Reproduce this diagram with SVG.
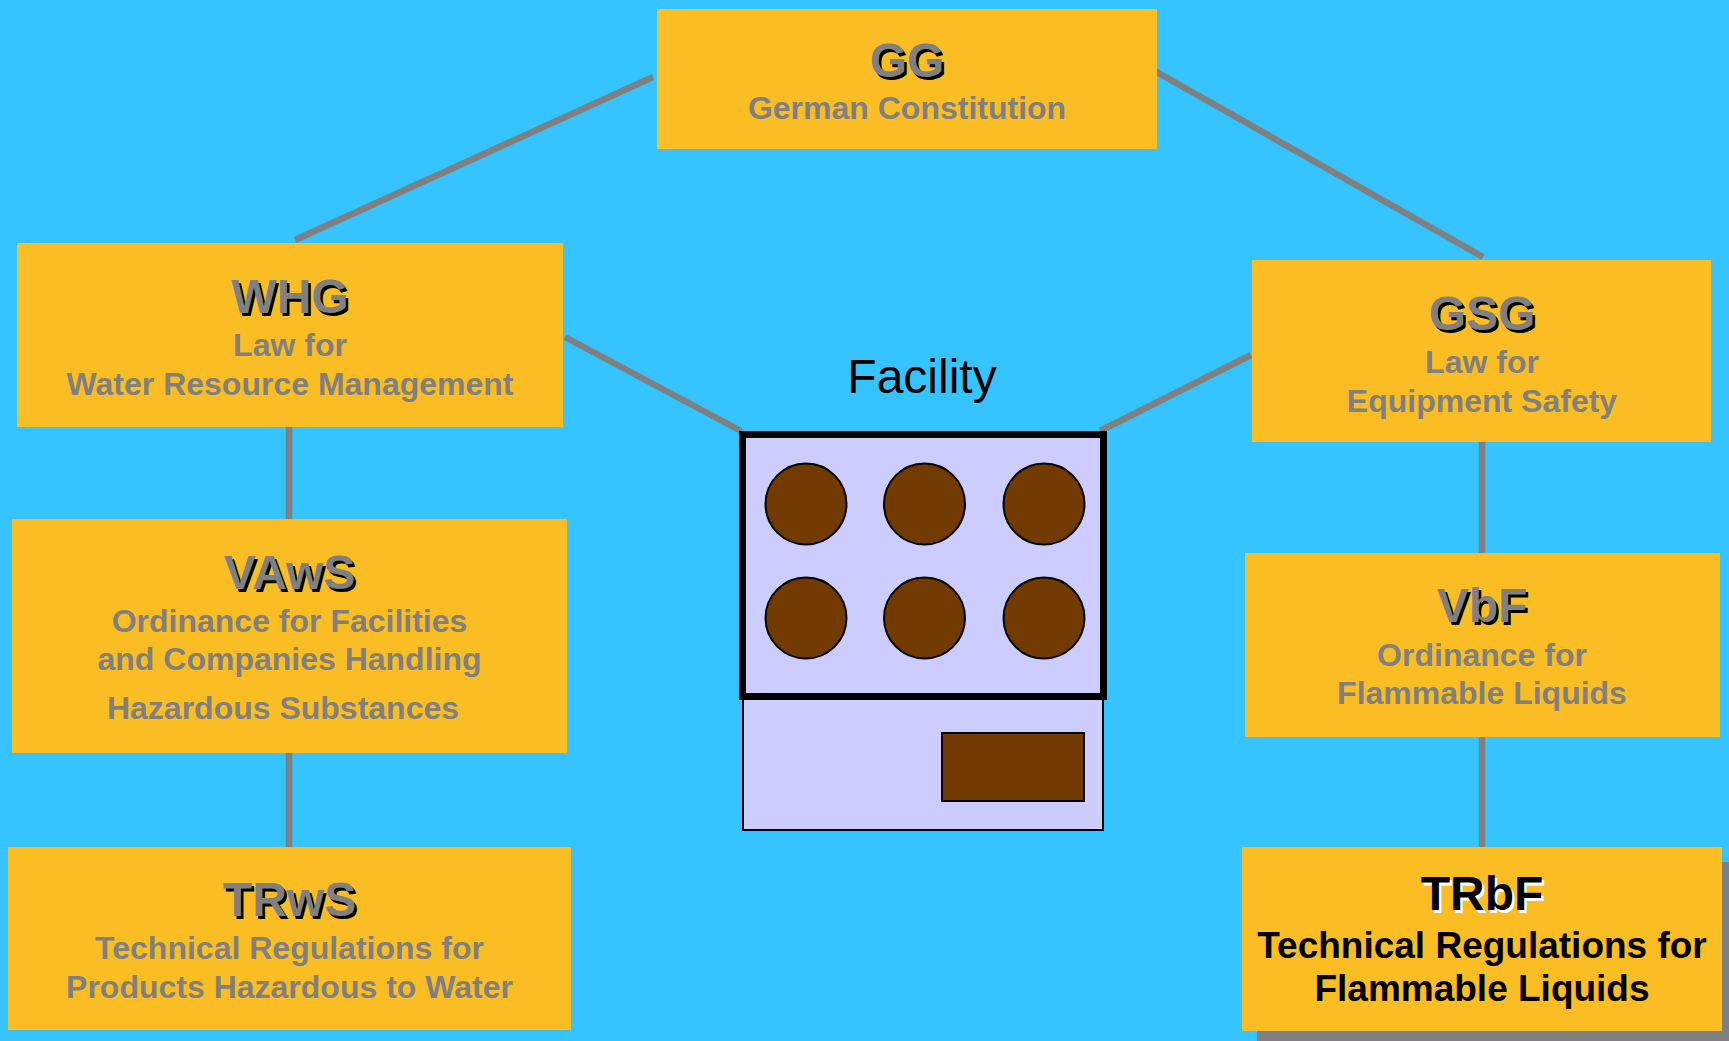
<svg xmlns="http://www.w3.org/2000/svg" width="1729" height="1041" viewBox="0 0 1729 1041">
  <style>
    .box { fill: #FBBD24; }
    .title { font-family: "Liberation Sans", Arial, sans-serif; font-weight: bold; font-size: 48px; text-anchor: middle; }
    .sub { font-family: "Liberation Sans", Arial, sans-serif; font-weight: bold; font-size: 32px; text-anchor: middle; fill: #808080; }
    .tg { fill: #808080; }
    .ts { fill: #000000; }
    .conn { stroke: #808080; stroke-width: 6.5; fill: none; }
    .tank { fill: #733A00; stroke: #000; stroke-width: 2; }
  </style>
  <rect x="0" y="0" width="1729" height="1041" fill="#35C4FF"/>

  <g id="connectors">
    <line class="conn" x1="653" y1="77" x2="295" y2="240"/>
    <line class="conn" x1="1155" y1="71" x2="1483" y2="257"/>
    <line class="conn" x1="565" y1="337" x2="741" y2="431"/>
    <line class="conn" x1="1251" y1="355" x2="1100" y2="431"/>
    <line class="conn" x1="289" y1="427" x2="289" y2="519"/>
    <line class="conn" x1="289" y1="753" x2="289" y2="847"/>
    <line class="conn" x1="1482" y1="442" x2="1482" y2="553"/>
    <line class="conn" x1="1482" y1="737" x2="1482" y2="847"/>
  </g>

  <g id="GG">
    <rect class="box" x="657" y="9" width="500" height="140"/>
    <text class="title ts" x="909.5" y="79.5">GG</text>
    <text class="title tg" x="907" y="77">GG</text>
    <text class="sub" x="907" y="119">German Constitution</text>
  </g>

  <g id="WHG">
    <rect class="box" x="17" y="243" width="546" height="184"/>
    <text class="title ts" x="292.5" y="315.5">WHG</text>
    <text class="title tg" x="290" y="313">WHG</text>
    <text class="sub" x="290" y="356">Law for</text>
    <text class="sub" x="290" y="395">Water Resource Management</text>
  </g>

  <g id="GSG">
    <rect class="box" x="1252" y="260" width="459" height="182"/>
    <text class="title ts" x="1484.5" y="332.5">GSG</text>
    <text class="title tg" x="1482" y="330">GSG</text>
    <text class="sub" x="1482" y="373">Law for</text>
    <text class="sub" x="1482" y="412">Equipment Safety</text>
  </g>

  <g id="VAwS">
    <rect class="box" x="12" y="519" width="555" height="234"/>
    <text class="title ts" x="292" y="591.5">VAwS</text>
    <text class="title tg" x="289.5" y="589">VAwS</text>
    <text class="sub" x="289.5" y="632">Ordinance for Facilities</text>
    <text class="sub" x="289.5" y="670">and Companies Handling</text>
    <text class="sub" x="283" y="719">Hazardous Substances</text>
  </g>

  <g id="TRwS">
    <rect class="box" x="8" y="847" width="563" height="183"/>
    <text class="title ts" x="292" y="918.5">TRwS</text>
    <text class="title tg" x="289.5" y="916">TRwS</text>
    <text class="sub" x="289.5" y="959">Technical Regulations for</text>
    <text class="sub" x="289.5" y="998">Products Hazardous to Water</text>
  </g>

  <g id="VbF">
    <rect class="box" x="1245" y="553" width="475" height="184"/>
    <text class="title ts" x="1484.5" y="624.5">VbF</text>
    <text class="title tg" x="1482" y="622">VbF</text>
    <text class="sub" x="1482" y="666">Ordinance for</text>
    <text class="sub" x="1482" y="704">Flammable Liquids</text>
  </g>

  <g id="TRbF">
    <rect x="1257" y="862" width="480" height="184" fill="#808080"/>
    <rect class="box" x="1242" y="847" width="480" height="184"/>
    <text class="title" x="1484.5" y="912.5" fill="#FFFFFF">TRbF</text>
    <text class="title" x="1482" y="910" fill="#000000">TRbF</text>
    <text class="sub" x="1482" y="958" style="font-size:37px;fill:#000">Technical Regulations for</text>
    <text class="sub" x="1482" y="1001" style="font-size:37px;fill:#000">Flammable Liquids</text>
  </g>

  <g id="Facility">
    <text x="922" y="393" font-family="Liberation Sans, Arial, sans-serif" font-size="48" text-anchor="middle" fill="#000">Facility</text>
    <rect x="743" y="697" width="360" height="133" fill="#CCCCFF" stroke="#000" stroke-width="2"/>
    <rect x="742.5" y="434.5" width="361" height="262" fill="#CCCCFF" stroke="#000" stroke-width="7"/>
    <circle class="tank" cx="806" cy="504" r="40.5"/>
    <circle class="tank" cx="924.5" cy="504" r="40.5"/>
    <circle class="tank" cx="1044" cy="504" r="40.5"/>
    <circle class="tank" cx="806" cy="618" r="40.5"/>
    <circle class="tank" cx="924.5" cy="618" r="40.5"/>
    <circle class="tank" cx="1044" cy="618" r="40.5"/>
    <rect class="tank" x="942" y="733" width="142" height="68"/>
  </g>
</svg>
